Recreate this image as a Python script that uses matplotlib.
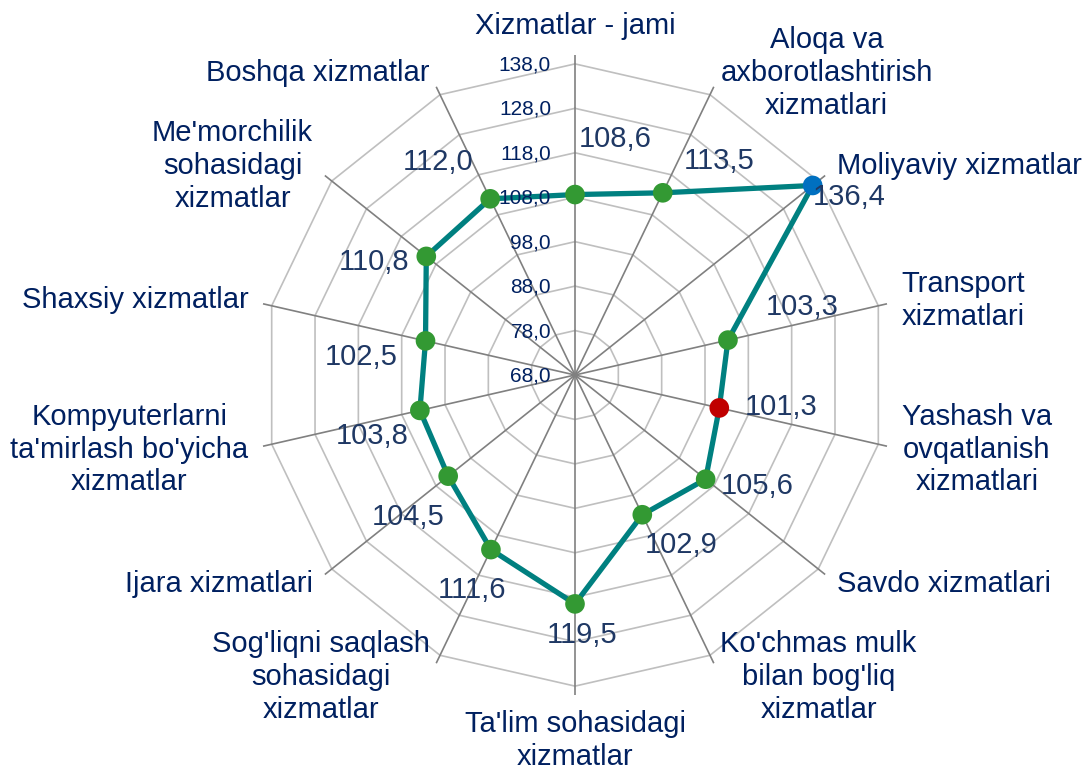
import numpy as np
import matplotlib
matplotlib.use('Agg')
import matplotlib.pyplot as plt

plt.rcParams['font.family'] = ['Liberation Sans', 'DejaVu Sans']

categories = ['Xizmatlar - jami',
              'Aloqa va\naxborotlashtirish\nxizmatlari',
              'Moliyaviy xizmatlar',
              'Transport\nxizmatlari',
              'Yashash va\novqatlanish\nxizmatlari',
              'Savdo xizmatlari',
              "Ko'chmas mulk\nbilan bog'liq\nxizmatlar",
              "Ta'lim sohasidagi\nxizmatlar",
              "Sog'liqni saqlash\nsohasidagi\nxizmatlar",
              'Ijara xizmatlari',
              "Kompyuterlarni\nta'mirlash bo'yicha\nxizmatlar",
              'Shaxsiy xizmatlar',
              "Me'morchilik\nsohasidagi\nxizmatlar",
              'Boshqa xizmatlar']
values = [108.6, 113.5, 136.4, 103.3, 101.3, 105.6, 102.9,
          119.5, 111.6, 104.5, 103.8, 102.5, 110.8, 112.0]
ticks = [68, 78, 88, 98, 108, 118, 128, 138]

# highlight colours for the max / min points
marker_colors = ['#339933'] * len(values)
marker_colors[2] = '#0070C0'
marker_colors[4] = '#C00000'

# data label offsets in pixels (dx, dy)
label_offsets = [(40, 56), (56, 32), (37, -12), (74, 33), (62, 1), (52, -7),
                 (39, -30), (7, -31), (-19, -40), (-40, -41), (-48, -26),
                 (-64, -16), (-52, -6), (-52, 37)]

navy = '#002060'
label_col = '#1F3864'
n = len(categories)
theta = np.arange(n) * 2 * np.pi / n
theta_c = np.append(theta, theta[0])
rmin, rmax = 68, 140

fig = plt.figure(figsize=(10.86, 7.76), dpi=100)
ax = fig.add_axes([0.23481, 0.10438, 0.58932, 0.82474], projection='polar')
ax.set_theta_zero_location('N')
ax.set_theta_direction(-1)
ax.set_ylim(rmin, rmax)
ax.grid(False)
ax.spines['polar'].set_visible(False)
ax.set_xticks([])
ax.set_yticks([])
ax.patch.set_visible(False)

# polygon rings
for t in ticks[1:]:
    ax.plot(theta_c, [t] * (n + 1), color='#BFBFBF', lw=1.2, zorder=1)
# spokes
for th in theta:
    ax.plot([th, th], [rmin, rmax], color='#808080', lw=1.2, zorder=2)

# tick labels
for t in ticks:
    ax.annotate(f'{t:.1f}'.replace('.', ','), xy=(0, t), xytext=(-24, -1),
                textcoords='offset pixels', ha='right', va='center',
                fontsize=15, color=navy, zorder=5)

# series
vals_c = values + values[:1]
ax.plot(theta_c, vals_c, color='#008080', lw=3.8, zorder=3, clip_on=False)
ax.scatter(theta, values, s=200, c=marker_colors, zorder=4, clip_on=False,
           linewidths=0)

for th, v, off in zip(theta, values, label_offsets):
    ax.annotate(f'{v:.1f}'.replace('.', ','), xy=(th, v), xytext=off,
                textcoords='offset pixels', ha='center', va='center',
                fontsize=21, color=label_col, zorder=6)

# category labels
r_lab = 68 + 335 / (311 / 70)
for i, (th, cat) in enumerate(zip(theta, categories)):
    if i == 0:
        ha, va = 'center', 'bottom'
    elif i == n // 2:
        ha, va = 'center', 'top'
    elif i < n // 2:
        ha, va = 'left', 'center'
    else:
        ha, va = 'right', 'center'
    ax.text(th, r_lab, cat, ha=ha, va=va, multialignment='center',
            fontsize=21, color=navy, linespacing=1.22)

fig.savefig('out.png', dpi=100)
